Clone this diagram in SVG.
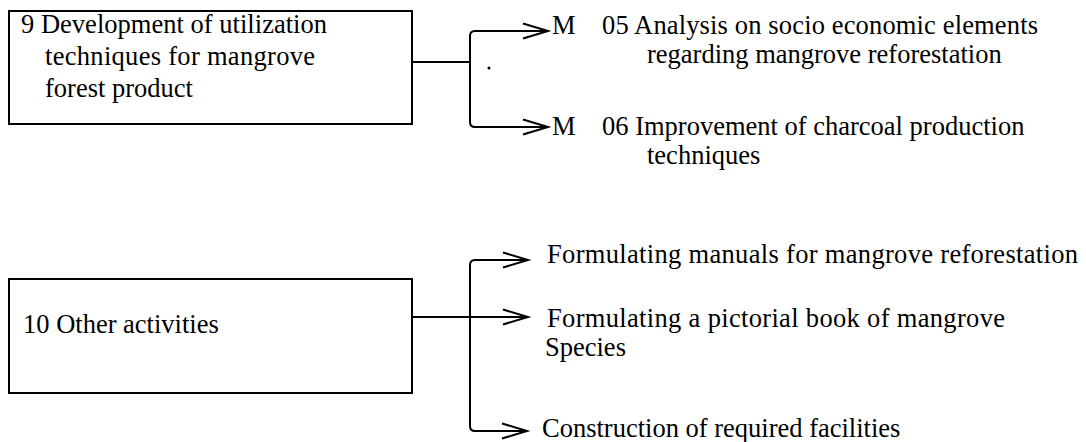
<svg xmlns="http://www.w3.org/2000/svg" width="1086" height="442" viewBox="0 0 1086 442">
<defs>
<style>
.box{fill:none;stroke:#000;stroke-width:2}
.ln{fill:none;stroke:#000;stroke-width:2}
text{font-family:"Liberation Serif","Times New Roman",serif;font-size:26.5px;fill:#000}
</style>
<marker id="ah" markerUnits="userSpaceOnUse" markerWidth="30" markerHeight="20" refX="26" refY="10" orient="auto" overflow="visible">
<path d="M1,2.5 L26,10 L1,17.5" fill="none" stroke="#000" stroke-width="2"/>
</marker>
</defs>
<rect width="1086" height="442" fill="#fff"/>
<g id="node9">
<rect class="box" x="9" y="11" width="403" height="113"/>
<text x="21" y="33" textLength="306">9 Development of utilization</text>
<text x="45" y="65" textLength="270">techniques for mangrove</text>
<text x="45" y="97">forest product</text>
</g>
<g id="nodeM05">
<text x="552" y="34">M</text>
<text x="602" y="34" textLength="436">05 Analysis on socio economic elements</text>
<text x="647" y="63">regarding mangrove reforestation</text>
</g>
<g id="nodeM06">
<text x="552" y="135">M</text>
<text x="602" y="135">06 Improvement of charcoal production</text>
<text x="647" y="164">techniques</text>
</g>
<g id="node10">
<rect class="box" x="9" y="279" width="403" height="114"/>
<text x="23" y="333">10 Other activities</text>
</g>
<g id="nodeA">
<text x="547" y="263" textLength="531">Formulating manuals for mangrove reforestation</text>
</g>
<g id="nodeB">
<text x="547" y="327" textLength="458">Formulating a pictorial book of mangrove</text>
<text x="545" y="356">Species</text>
</g>
<g id="nodeC">
<text x="542" y="437">Construction of required facilities</text>
</g>
<g id="connectors">
<line class="ln" x1="412" y1="62" x2="470" y2="62"/>
<path class="ln" d="M470,36 Q470,31 475,31 M470,36 V122 Q470,127 475,127"/>
<line class="ln" x1="474" y1="31" x2="548" y2="31" marker-end="url(#ah)"/>
<line class="ln" x1="474" y1="127" x2="548" y2="127" marker-end="url(#ah)"/>
<circle cx="489" cy="68" r="1.5" fill="#000"/>
<line class="ln" x1="412" y1="317" x2="528" y2="317" marker-end="url(#ah)"/>
<path class="ln" d="M470,265 Q470,260 475,260 M470,265 V426 Q470,431 475,431"/>
<line class="ln" x1="474" y1="260" x2="528" y2="260" marker-end="url(#ah)"/>
<line class="ln" x1="474" y1="431" x2="527" y2="431" marker-end="url(#ah)"/>
</g>
</svg>
